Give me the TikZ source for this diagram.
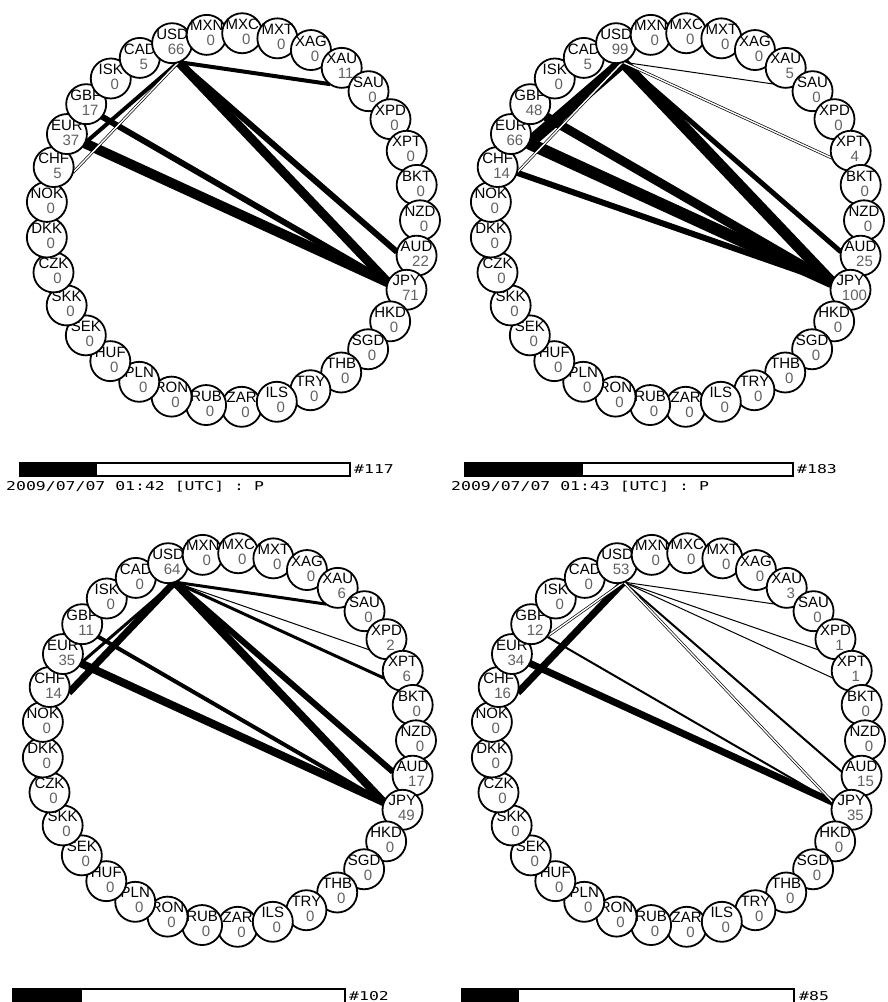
\documentclass[tikz,border=0pt]{standalone}
\usepackage{fontspec}
\setmainfont{Liberation Sans}
\newfontfamily\stampfont[FakeStretch=1.35]{DejaVu Sans Mono}
\pgfdeclarelayer{edges}
\pgfsetlayers{edges,main}
\definecolor{numgray}{gray}{0.38}

\newcommand\ccytext[2]{\makebox[0pt]{\raisebox{-4pt}[0pt][0pt]{%
  \begin{tabular}{@{}c@{}}#1\\[-1pt]\hspace{8pt}\textcolor{numgray}{#2}\end{tabular}}}}

\newcommand\ring[3]{%
  \foreach \cc in {USD,MXN,MXC,MXT,XAG,XAU,SAU,XPD,XPT,BKT,NZD,AUD,JPY,HKD,SGD,THB,TRY,ILS,
                   ZAR,RUB,RON,PLN,HUF,SEK,SKK,CZK,DKK,NOK,CHF,EUR,GBP,ISK,CAD}
    {\expandafter\xdef\csname val\cc\endcsname{0}}%
  \foreach \cc/\nn in {#3}
    {\expandafter\xdef\csname val\cc\endcsname{\nn}}%
  \begin{scope}[shift={(#2)}]
  \foreach \cc/\k in {ZAR/18,RUB/19,RON/20,PLN/21,HUF/22,SEK/23,SKK/24,CZK/25,DKK/26,NOK/27,
                      CHF/28,EUR/29,GBP/30,ISK/31,CAD/32,USD/0,MXN/1,MXC/2,MXT/3,XAG/4,XAU/5,
                      SAU/6,XPD/7,XPT/8,BKT/9,NZD/10,AUD/11,JPY/12,HKD/13,SGD/14,THB/15,TRY/16,ILS/17} {
    \pgfmathsetmacro\ang{\k*360/33-109}
    \coordinate (#1\cc-in) at (\ang:167);
    \node[ccy] (#1\cc) at (\ang:187) {\ccytext{\cc}{\csname val\cc\endcsname}};
  }
  \end{scope}}

\newcommand\links[2]{%
  \foreach \s/\t/\w in {#2}
    \draw[link, line width=\w pt] (#1\s-in) -- (#1\t-in);}

\begin{document}
\begin{tikzpicture}[x=1pt,y=-1pt,
    ccy/.style={circle, draw, fill=white, line width=1.8pt, minimum size=40pt, inner sep=0pt,
                font=\fontsize{15}{16}\selectfont},
    link/.style={draw=black, line cap=butt},
    pairlink/.style={draw=black, double=white, double distance=1.4pt, line width=0.7pt},
    bar/.style={draw, line width=1.2pt},
    stamp/.style={font=\stampfont\fontsize{12.2}{14}\selectfont, inner sep=0pt, anchor=base west}
]
\useasboundingbox (0,0) rectangle (888,1002);
\clip (0,0) rectangle (888,1002);

\ring{a}{233,220}{USD/66,XAU/11,AUD/22,JPY/71,CHF/5,EUR/37,GBP/17,CAD/5}
\ring{b}{677,220}{USD/99,XAU/5,XPT/4,AUD/25,JPY/100,CHF/14,EUR/66,GBP/48,CAD/5}
\ring{c}{229,740}{USD/64,XAU/6,XPD/2,XPT/6,AUD/17,JPY/49,CHF/14,EUR/35,GBP/11}
\ring{d}{678,740}{USD/53,XAU/3,XPD/1,XPT/1,AUD/15,JPY/35,CHF/16,EUR/34,GBP/12}

\begin{pgfonlayer}{edges}
\fill[white] (0,0) rectangle (888,1002);
\links{a}{USD/JPY/9,USD/AUD/6,EUR/JPY/10,GBP/JPY/6,USD/XAU/4,USD/EUR/4}
\draw[pairlink] (aUSD-in) -- (aCHF-in);
\links{b}{USD/EUR/12,USD/JPY/11,USD/AUD/5,EUR/JPY/12,GBP/JPY/9,CHF/JPY/6,USD/XAU/1}
\draw[pairlink] (bUSD-in) -- (bXPT-in);
\draw[pairlink] (bUSD-in) -- (bCHF-in);
\links{c}{USD/CHF/7,USD/EUR/3,EUR/JPY/8,GBP/JPY/4,USD/JPY/8,USD/AUD/6,USD/XAU/3,USD/XPD/1,USD/XPT/3}
\links{d}{USD/CHF/7,EUR/JPY/7,GBP/JPY/2,USD/AUD/2,USD/XAU/1,USD/XPD/1,USD/XPT/1}
\draw[pairlink] (dUSD-in) -- (dGBP-in);
\draw[pairlink] (dUSD-in) -- (dJPY-in);
\end{pgfonlayer}

\draw[bar] (20,463) rectangle (350,476);
\fill (20,463) rectangle (97,476);
\node[stamp] (countA) at (354,473.5) {\#117};
\node[stamp] (timeA) at (6,490) {2009/07/07 01:42 [UTC] : P};

\draw[bar] (465,463) rectangle (793,476);
\fill (465,463) rectangle (583,476);
\node[stamp] (countB) at (797,473.5) {\#183};
\node[stamp] (timeB) at (451,490) {2009/07/07 01:43 [UTC] : P};

\draw[bar] (13,989) rectangle (345,1010);
\fill (13,989) rectangle (82,1010);
\node[stamp] (countC) at (349,1000.5) {\#102};

\draw[bar] (462,989) rectangle (794,1010);
\fill (462,989) rectangle (519,1010);
\node[stamp] (countD) at (799,1000.5) {\#85};
\end{tikzpicture}
\end{document}
